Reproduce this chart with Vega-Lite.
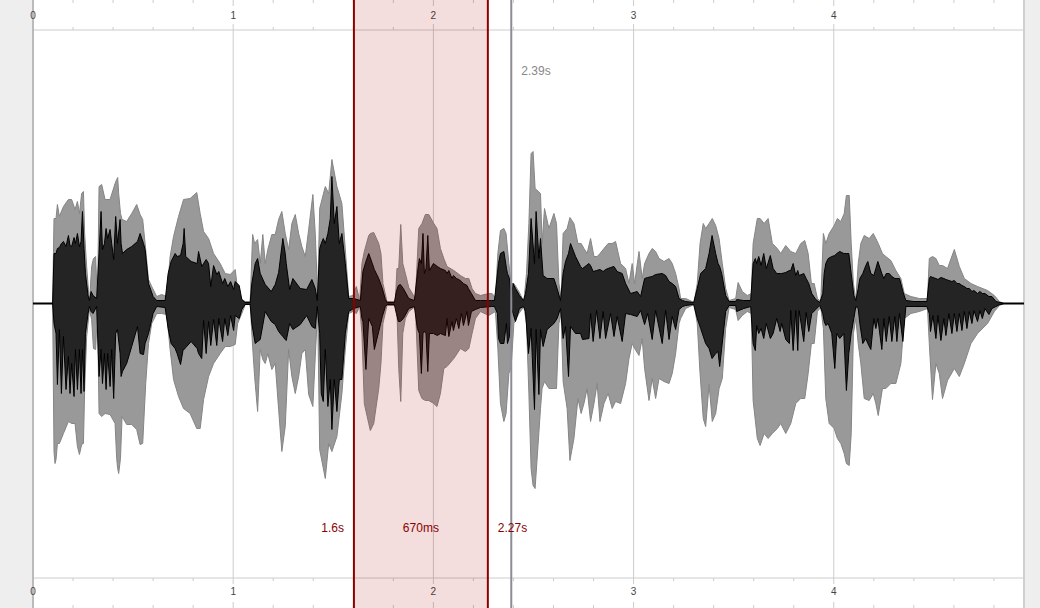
{"$schema":"https://vega.github.io/schema/vega-lite/v6.json","width":1040,"height":608,"autosize":{"type":"none"},"padding":0,"background":"#ffffff","config":{"axis":{"disable":true},"view":{"stroke":null}},
"data":{"name":"plot","values":[{"start":0,"end":4.95}]},
"datasets":{
"margins":[{"start":-0.1648,"end":0},{"start":4.95,"end":5.03}],
"seconds":[{"t":0,"label":"0"},{"t":1,"label":"1"},{"t":2,"label":"2"},{"t":3,"label":"3"},{"t":4,"label":"4"}],
"minor":[{"t":0.2},{"t":0.4},{"t":0.6},{"t":0.8},{"t":1.2},{"t":1.4},{"t":1.6},{"t":1.8},{"t":2.2},{"t":2.4},{"t":2.6},{"t":2.8},{"t":3.2},{"t":3.4},{"t":3.6},{"t":3.8},{"t":4.2},{"t":4.4},{"t":4.6},{"t":4.8}],
"selection":[{"start":1.603,"end":2.272,"label":"670ms","mid":1.9375}],
"edges":[{"t":1.603,"label":"1.6s"},{"t":2.272,"label":"2.27s"}],
"cursor":[{"t":2.389,"label":"2.39s"}],
"outer":[{"t":0,"hi":0,"lo":0},{"t":0.098,"hi":0,"lo":0},{"t":0.105,"hi":85,"lo":-148},{"t":0.11,"hi":85,"lo":-160},{"t":0.115,"hi":85,"lo":-156},{"t":0.122,"hi":99,"lo":-140},{"t":0.132,"hi":87,"lo":-140},{"t":0.152,"hi":97,"lo":-130},{"t":0.177,"hi":104,"lo":-118},{"t":0.193,"hi":104,"lo":-120},{"t":0.21,"hi":94,"lo":-120},{"t":0.222,"hi":102,"lo":-143},{"t":0.232,"hi":90,"lo":-151},{"t":0.243,"hi":110,"lo":-141},{"t":0.252,"hi":112,"lo":-140},{"t":0.258,"hi":70,"lo":-86},{"t":0.268,"hi":37,"lo":-33},{"t":0.282,"hi":0,"lo":-6},{"t":0.293,"hi":37,"lo":-16},{"t":0.302,"hi":45,"lo":-45},{"t":0.313,"hi":47,"lo":-46},{"t":0.322,"hi":0,"lo":-6},{"t":0.33,"hi":117,"lo":-110},{"t":0.343,"hi":119,"lo":-113},{"t":0.36,"hi":104,"lo":-110},{"t":0.385,"hi":104,"lo":-111},{"t":0.41,"hi":120,"lo":-120},{"t":0.418,"hi":124,"lo":-155},{"t":0.423,"hi":126,"lo":-165},{"t":0.428,"hi":110,"lo":-170},{"t":0.437,"hi":90,"lo":-155},{"t":0.445,"hi":84,"lo":-113},{"t":0.468,"hi":82,"lo":-121},{"t":0.493,"hi":90,"lo":-121},{"t":0.518,"hi":99,"lo":-126},{"t":0.535,"hi":89,"lo":-141},{"t":0.548,"hi":84,"lo":-140},{"t":0.563,"hi":54,"lo":-80},{"t":0.577,"hi":24,"lo":-40},{"t":0.593,"hi":17,"lo":-20},{"t":0.618,"hi":7,"lo":-10},{"t":0.643,"hi":9,"lo":-10},{"t":0.668,"hi":7,"lo":-11},{"t":0.685,"hi":47,"lo":-46},{"t":0.702,"hi":67,"lo":-76},{"t":0.727,"hi":87,"lo":-93},{"t":0.752,"hi":104,"lo":-105},{"t":0.785,"hi":105,"lo":-110},{"t":0.818,"hi":111,"lo":-125},{"t":0.835,"hi":90,"lo":-125},{"t":0.852,"hi":72,"lo":-96},{"t":0.877,"hi":65,"lo":-73},{"t":0.902,"hi":50,"lo":-60},{"t":0.935,"hi":40,"lo":-50},{"t":0.96,"hi":30,"lo":-43},{"t":0.985,"hi":29,"lo":-43},{"t":1.01,"hi":34,"lo":-41},{"t":1.022,"hi":14,"lo":-20},{"t":1.043,"hi":4,"lo":-10},{"t":1.06,"hi":2,"lo":-1},{"t":1.085,"hi":2,"lo":-1},{"t":1.097,"hi":69,"lo":-43},{"t":1.107,"hi":60,"lo":-73},{"t":1.122,"hi":64,"lo":-108},{"t":1.135,"hi":40,"lo":-46},{"t":1.148,"hi":69,"lo":-56},{"t":1.16,"hi":40,"lo":-60},{"t":1.173,"hi":54,"lo":-50},{"t":1.193,"hi":69,"lo":-66},{"t":1.21,"hi":69,"lo":-60},{"t":1.227,"hi":84,"lo":-106},{"t":1.243,"hi":92,"lo":-148},{"t":1.26,"hi":70,"lo":-123},{"t":1.277,"hi":54,"lo":-46},{"t":1.293,"hi":80,"lo":-73},{"t":1.31,"hi":89,"lo":-90},{"t":1.327,"hi":70,"lo":-73},{"t":1.343,"hi":57,"lo":-50},{"t":1.36,"hi":47,"lo":-46},{"t":1.377,"hi":74,"lo":-91},{"t":1.398,"hi":109,"lo":-103},{"t":1.41,"hi":70,"lo":-53},{"t":1.422,"hi":7,"lo":-6},{"t":1.432,"hi":95,"lo":-146},{"t":1.46,"hi":117,"lo":-175},{"t":1.477,"hi":110,"lo":-140},{"t":1.493,"hi":144,"lo":-148},{"t":1.518,"hi":117,"lo":-133},{"t":1.543,"hi":100,"lo":-90},{"t":1.56,"hi":54,"lo":-46},{"t":1.577,"hi":7,"lo":-10},{"t":1.598,"hi":8,"lo":-8},{"t":1.615,"hi":17,"lo":-10},{"t":1.632,"hi":3,"lo":-3},{"t":1.643,"hi":40,"lo":-30},{"t":1.655,"hi":52,"lo":-100},{"t":1.677,"hi":68,"lo":-120},{"t":1.685,"hi":70,"lo":-127},{"t":1.702,"hi":71,"lo":-120},{"t":1.727,"hi":60,"lo":-85},{"t":1.738,"hi":50,"lo":-60},{"t":1.748,"hi":20,"lo":-20},{"t":1.768,"hi":2,"lo":-2},{"t":1.81,"hi":2,"lo":-2},{"t":1.818,"hi":35,"lo":-8},{"t":1.827,"hi":35,"lo":-65},{"t":1.837,"hi":79,"lo":-98},{"t":1.847,"hi":40,"lo":-30},{"t":1.86,"hi":30,"lo":-15},{"t":1.877,"hi":16,"lo":-8},{"t":1.91,"hi":5,"lo":-3},{"t":1.927,"hi":75,"lo":-87},{"t":1.943,"hi":80,"lo":-95},{"t":1.96,"hi":89,"lo":-97},{"t":1.977,"hi":89,"lo":-97},{"t":2.002,"hi":80,"lo":-100},{"t":2.018,"hi":75,"lo":-103},{"t":2.035,"hi":55,"lo":-90},{"t":2.052,"hi":45,"lo":-65},{"t":2.068,"hi":37,"lo":-63},{"t":2.102,"hi":33,"lo":-55},{"t":2.135,"hi":28,"lo":-45},{"t":2.16,"hi":25,"lo":-48},{"t":2.177,"hi":25,"lo":-45},{"t":2.193,"hi":15,"lo":-30},{"t":2.21,"hi":10,"lo":-15},{"t":2.235,"hi":8,"lo":-8},{"t":2.277,"hi":10,"lo":-12},{"t":2.293,"hi":10,"lo":-10},{"t":2.31,"hi":6,"lo":-8},{"t":2.322,"hi":50,"lo":-45},{"t":2.335,"hi":73,"lo":-100},{"t":2.352,"hi":75,"lo":-118},{"t":2.363,"hi":70,"lo":-110},{"t":2.377,"hi":40,"lo":-70},{"t":2.388,"hi":20,"lo":-65},{"t":2.402,"hi":20,"lo":-20},{"t":2.427,"hi":12,"lo":-10},{"t":2.452,"hi":2,"lo":-3},{"t":2.465,"hi":30,"lo":-20},{"t":2.477,"hi":80,"lo":-90},{"t":2.488,"hi":150,"lo":-165},{"t":2.498,"hi":152,"lo":-182},{"t":2.508,"hi":115,"lo":-185},{"t":2.535,"hi":110,"lo":-105},{"t":2.543,"hi":60,"lo":-85},{"t":2.555,"hi":95,"lo":-78},{"t":2.577,"hi":75,"lo":-85},{"t":2.602,"hi":90,"lo":-85},{"t":2.615,"hi":80,"lo":-85},{"t":2.627,"hi":20,"lo":-20},{"t":2.638,"hi":5,"lo":-10},{"t":2.648,"hi":70,"lo":-78},{"t":2.668,"hi":75,"lo":-105},{"t":2.682,"hi":86,"lo":-157},{"t":2.702,"hi":80,"lo":-135},{"t":2.722,"hi":60,"lo":-95},{"t":2.738,"hi":60,"lo":-110},{"t":2.752,"hi":55,"lo":-100},{"t":2.768,"hi":50,"lo":-85},{"t":2.785,"hi":65,"lo":-118},{"t":2.802,"hi":47,"lo":-100},{"t":2.818,"hi":47,"lo":-80},{"t":2.832,"hi":50,"lo":-118},{"t":2.852,"hi":55,"lo":-100},{"t":2.873,"hi":60,"lo":-90},{"t":2.893,"hi":60,"lo":-105},{"t":2.91,"hi":62,"lo":-98},{"t":2.935,"hi":40,"lo":-100},{"t":2.96,"hi":35,"lo":-80},{"t":2.977,"hi":20,"lo":-55},{"t":2.993,"hi":40,"lo":-40},{"t":3.005,"hi":20,"lo":-45},{"t":3.027,"hi":52,"lo":-52},{"t":3.043,"hi":25,"lo":-35},{"t":3.055,"hi":40,"lo":-65},{"t":3.077,"hi":50,"lo":-97},{"t":3.093,"hi":55,"lo":-75},{"t":3.11,"hi":52,"lo":-95},{"t":3.127,"hi":45,"lo":-75},{"t":3.152,"hi":42,"lo":-78},{"t":3.177,"hi":45,"lo":-80},{"t":3.193,"hi":40,"lo":-70},{"t":3.21,"hi":30,"lo":-50},{"t":3.227,"hi":15,"lo":-20},{"t":3.235,"hi":5,"lo":-15},{"t":3.26,"hi":5,"lo":-5},{"t":3.302,"hi":1,"lo":-1},{"t":3.318,"hi":20,"lo":-20},{"t":3.332,"hi":60,"lo":-70},{"t":3.348,"hi":80,"lo":-115},{"t":3.36,"hi":75,"lo":-123},{"t":3.377,"hi":80,"lo":-81},{"t":3.393,"hi":85,"lo":-118},{"t":3.41,"hi":78,"lo":-110},{"t":3.427,"hi":65,"lo":-85},{"t":3.443,"hi":40,"lo":-75},{"t":3.46,"hi":15,"lo":-25},{"t":3.477,"hi":3,"lo":-4},{"t":3.51,"hi":5,"lo":-6},{"t":3.522,"hi":21,"lo":-17},{"t":3.543,"hi":12,"lo":-12},{"t":3.568,"hi":8,"lo":-8},{"t":3.588,"hi":10,"lo":-10},{"t":3.597,"hi":60,"lo":-97},{"t":3.618,"hi":85,"lo":-135},{"t":3.632,"hi":85,"lo":-142},{"t":3.652,"hi":80,"lo":-130},{"t":3.672,"hi":85,"lo":-135},{"t":3.693,"hi":60,"lo":-130},{"t":3.718,"hi":55,"lo":-125},{"t":3.735,"hi":50,"lo":-120},{"t":3.76,"hi":58,"lo":-130},{"t":3.785,"hi":52,"lo":-120},{"t":3.81,"hi":50,"lo":-100},{"t":3.835,"hi":60,"lo":-95},{"t":3.855,"hi":63,"lo":-95},{"t":3.872,"hi":50,"lo":-70},{"t":3.888,"hi":20,"lo":-40},{"t":3.902,"hi":20,"lo":-40},{"t":3.918,"hi":5,"lo":-8},{"t":3.935,"hi":2,"lo":-4},{"t":3.948,"hi":70,"lo":-25},{"t":3.96,"hi":60,"lo":-95},{"t":3.977,"hi":70,"lo":-120},{"t":4.002,"hi":78,"lo":-125},{"t":4.018,"hi":85,"lo":-135},{"t":4.035,"hi":82,"lo":-140},{"t":4.052,"hi":90,"lo":-150},{"t":4.063,"hi":108,"lo":-160},{"t":4.077,"hi":108,"lo":-162},{"t":4.087,"hi":60,"lo":-130},{"t":4.098,"hi":20,"lo":-30},{"t":4.11,"hi":3,"lo":-15},{"t":4.122,"hi":40,"lo":-40},{"t":4.135,"hi":60,"lo":-60},{"t":4.152,"hi":68,"lo":-95},{"t":4.177,"hi":65,"lo":-97},{"t":4.197,"hi":70,"lo":-90},{"t":4.21,"hi":65,"lo":-100},{"t":4.222,"hi":60,"lo":-112},{"t":4.243,"hi":50,"lo":-85},{"t":4.26,"hi":47,"lo":-85},{"t":4.285,"hi":43,"lo":-80},{"t":4.31,"hi":33,"lo":-80},{"t":4.335,"hi":25,"lo":-60},{"t":4.352,"hi":10,"lo":-15},{"t":4.385,"hi":7,"lo":-10},{"t":4.427,"hi":5,"lo":-8},{"t":4.468,"hi":5,"lo":-5},{"t":4.477,"hi":45,"lo":-40},{"t":4.493,"hi":47,"lo":-96},{"t":4.51,"hi":45,"lo":-60},{"t":4.527,"hi":38,"lo":-70},{"t":4.543,"hi":38,"lo":-95},{"t":4.568,"hi":35,"lo":-77},{"t":4.602,"hi":54,"lo":-65},{"t":4.627,"hi":37,"lo":-73},{"t":4.652,"hi":25,"lo":-60},{"t":4.685,"hi":20,"lo":-40},{"t":4.718,"hi":17,"lo":-30},{"t":4.768,"hi":13,"lo":-20},{"t":4.802,"hi":8,"lo":-8},{"t":4.827,"hi":2,"lo":-2},{"t":4.85,"hi":0,"lo":0},{"t":4.95,"hi":0,"lo":0}],
"inner":[{"t":0,"hi":0,"lo":0},{"t":0.098,"hi":0,"lo":0},{"t":0.105,"hi":50,"lo":-20},{"t":0.115,"hi":50,"lo":-30},{"t":0.122,"hi":55,"lo":-81},{"t":0.132,"hi":56,"lo":-26},{"t":0.142,"hi":60,"lo":-90},{"t":0.152,"hi":62,"lo":-33},{"t":0.165,"hi":57,"lo":-86},{"t":0.177,"hi":68,"lo":-53},{"t":0.185,"hi":58,"lo":-90},{"t":0.193,"hi":57,"lo":-60},{"t":0.205,"hi":66,"lo":-93},{"t":0.212,"hi":60,"lo":-46},{"t":0.222,"hi":70,"lo":-86},{"t":0.232,"hi":57,"lo":-46},{"t":0.24,"hi":62,"lo":-90},{"t":0.247,"hi":92,"lo":-46},{"t":0.255,"hi":55,"lo":-88},{"t":0.262,"hi":30,"lo":-30},{"t":0.275,"hi":8,"lo":-10},{"t":0.282,"hi":3,"lo":-3},{"t":0.29,"hi":12,"lo":-8},{"t":0.3,"hi":8,"lo":-10},{"t":0.318,"hi":5,"lo":-3},{"t":0.33,"hi":50,"lo":-73},{"t":0.34,"hi":92,"lo":-46},{"t":0.347,"hi":54,"lo":-80},{"t":0.357,"hi":60,"lo":-50},{"t":0.365,"hi":75,"lo":-86},{"t":0.373,"hi":65,"lo":-50},{"t":0.385,"hi":74,"lo":-83},{"t":0.393,"hi":60,"lo":-46},{"t":0.403,"hi":44,"lo":-95},{"t":0.413,"hi":87,"lo":-30},{"t":0.422,"hi":60,"lo":-26},{"t":0.435,"hi":84,"lo":-50},{"t":0.44,"hi":60,"lo":-73},{"t":0.447,"hi":50,"lo":-68},{"t":0.468,"hi":54,"lo":-60},{"t":0.493,"hi":57,"lo":-43},{"t":0.522,"hi":62,"lo":-23},{"t":0.535,"hi":70,"lo":-50},{"t":0.552,"hi":60,"lo":-51},{"t":0.56,"hi":54,"lo":-40},{"t":0.577,"hi":20,"lo":-30},{"t":0.6,"hi":7,"lo":-10},{"t":0.618,"hi":3,"lo":-3},{"t":0.66,"hi":3,"lo":-4},{"t":0.675,"hi":30,"lo":-25},{"t":0.69,"hi":42,"lo":-40},{"t":0.71,"hi":50,"lo":-45},{"t":0.72,"hi":47,"lo":-50},{"t":0.737,"hi":48,"lo":-61},{"t":0.75,"hi":60,"lo":-46},{"t":0.755,"hi":75,"lo":-46},{"t":0.763,"hi":47,"lo":-44},{"t":0.79,"hi":42,"lo":-38},{"t":0.82,"hi":40,"lo":-45},{"t":0.827,"hi":52,"lo":-50},{"t":0.843,"hi":37,"lo":-55},{"t":0.852,"hi":40,"lo":-17},{"t":0.865,"hi":44,"lo":-50},{"t":0.877,"hi":40,"lo":-18},{"t":0.888,"hi":17,"lo":-42},{"t":0.902,"hi":38,"lo":-16},{"t":0.918,"hi":29,"lo":-42},{"t":0.928,"hi":32,"lo":-15},{"t":0.947,"hi":20,"lo":-38},{"t":0.958,"hi":25,"lo":-15},{"t":0.973,"hi":17,"lo":-32},{"t":0.987,"hi":22,"lo":-12},{"t":1.002,"hi":14,"lo":-27},{"t":1.01,"hi":22,"lo":-12},{"t":1.03,"hi":18,"lo":-15},{"t":1.043,"hi":4,"lo":-6},{"t":1.06,"hi":1,"lo":-1},{"t":1.085,"hi":1,"lo":-1},{"t":1.093,"hi":20,"lo":-20},{"t":1.11,"hi":40,"lo":-40},{"t":1.122,"hi":45,"lo":-38},{"t":1.135,"hi":30,"lo":-36},{"t":1.16,"hi":19,"lo":-8},{"t":1.19,"hi":12,"lo":-18},{"t":1.21,"hi":19,"lo":-21},{"t":1.227,"hi":31,"lo":-28},{"t":1.248,"hi":65,"lo":-33},{"t":1.26,"hi":50,"lo":-36},{"t":1.265,"hi":40,"lo":-37},{"t":1.282,"hi":14,"lo":-20},{"t":1.298,"hi":25,"lo":-26},{"t":1.335,"hi":15,"lo":-21},{"t":1.367,"hi":14,"lo":-12},{"t":1.393,"hi":24,"lo":-23},{"t":1.41,"hi":15,"lo":-25},{"t":1.42,"hi":3,"lo":-3},{"t":1.432,"hi":55,"lo":-30},{"t":1.44,"hi":60,"lo":-90},{"t":1.45,"hi":65,"lo":-98},{"t":1.46,"hi":60,"lo":-46},{"t":1.473,"hi":70,"lo":-103},{"t":1.485,"hi":85,"lo":-76},{"t":1.493,"hi":127,"lo":-126},{"t":1.505,"hi":80,"lo":-76},{"t":1.518,"hi":97,"lo":-108},{"t":1.53,"hi":60,"lo":-76},{"t":1.543,"hi":70,"lo":-76},{"t":1.56,"hi":40,"lo":-30},{"t":1.577,"hi":5,"lo":-8},{"t":1.602,"hi":5,"lo":-5},{"t":1.635,"hi":3,"lo":-3},{"t":1.643,"hi":20,"lo":-15},{"t":1.648,"hi":32,"lo":-18},{"t":1.663,"hi":42,"lo":-66},{"t":1.677,"hi":50,"lo":-15},{"t":1.695,"hi":40,"lo":-23},{"t":1.705,"hi":34,"lo":-46},{"t":1.727,"hi":25,"lo":-28},{"t":1.745,"hi":15,"lo":-13},{"t":1.76,"hi":4,"lo":-3},{"t":1.77,"hi":1,"lo":-1},{"t":1.805,"hi":1,"lo":-1},{"t":1.815,"hi":12,"lo":-10},{"t":1.825,"hi":18,"lo":-18},{"t":1.835,"hi":19,"lo":-18},{"t":1.85,"hi":15,"lo":-15},{"t":1.877,"hi":5,"lo":-5},{"t":1.905,"hi":3,"lo":-3},{"t":1.92,"hi":30,"lo":-25},{"t":1.93,"hi":45,"lo":-30},{"t":1.94,"hi":40,"lo":-70},{"t":1.948,"hi":70,"lo":-30},{"t":1.955,"hi":30,"lo":-28},{"t":1.963,"hi":35,"lo":-30},{"t":1.972,"hi":68,"lo":-68},{"t":1.98,"hi":33,"lo":-30},{"t":2,"hi":40,"lo":-30},{"t":2.02,"hi":37,"lo":-32},{"t":2.035,"hi":35,"lo":-30},{"t":2.06,"hi":33,"lo":-32},{"t":2.068,"hi":30,"lo":-15},{"t":2.077,"hi":33,"lo":-33},{"t":2.093,"hi":25,"lo":-18},{"t":2.1,"hi":28,"lo":-27},{"t":2.115,"hi":25,"lo":-15},{"t":2.127,"hi":24,"lo":-25},{"t":2.14,"hi":22,"lo":-10},{"t":2.15,"hi":20,"lo":-22},{"t":2.168,"hi":18,"lo":-8},{"t":2.175,"hi":15,"lo":-22},{"t":2.19,"hi":10,"lo":-8},{"t":2.21,"hi":3,"lo":-6},{"t":2.235,"hi":3,"lo":-4},{"t":2.29,"hi":3,"lo":-3},{"t":2.305,"hi":3,"lo":-3},{"t":2.32,"hi":30,"lo":-10},{"t":2.325,"hi":40,"lo":-35},{"t":2.335,"hi":50,"lo":-40},{"t":2.352,"hi":52,"lo":-40},{"t":2.365,"hi":35,"lo":-20},{"t":2.37,"hi":30,"lo":-40},{"t":2.38,"hi":25,"lo":-33},{"t":2.39,"hi":5,"lo":-5},{"t":2.398,"hi":20,"lo":-10},{"t":2.41,"hi":15,"lo":-18},{"t":2.43,"hi":8,"lo":-5},{"t":2.45,"hi":3,"lo":-3},{"t":2.46,"hi":10,"lo":-8},{"t":2.475,"hi":30,"lo":-50},{"t":2.488,"hi":85,"lo":-25},{"t":2.505,"hi":40,"lo":-106},{"t":2.513,"hi":92,"lo":-26},{"t":2.527,"hi":45,"lo":-91},{"t":2.535,"hi":65,"lo":-26},{"t":2.548,"hi":28,"lo":-43},{"t":2.568,"hi":25,"lo":-26},{"t":2.602,"hi":25,"lo":-20},{"t":2.618,"hi":15,"lo":-15},{"t":2.635,"hi":3,"lo":-5},{"t":2.648,"hi":30,"lo":-35},{"t":2.66,"hi":42,"lo":-23},{"t":2.675,"hi":50,"lo":-73},{"t":2.685,"hi":60,"lo":-23},{"t":2.71,"hi":47,"lo":-30},{"t":2.735,"hi":37,"lo":-30},{"t":2.745,"hi":35,"lo":-36},{"t":2.777,"hi":40,"lo":-35},{"t":2.785,"hi":38,"lo":-10},{"t":2.798,"hi":32,"lo":-38},{"t":2.815,"hi":33,"lo":-7},{"t":2.832,"hi":34,"lo":-35},{"t":2.848,"hi":32,"lo":-8},{"t":2.86,"hi":34,"lo":-35},{"t":2.885,"hi":36,"lo":-10},{"t":2.902,"hi":37,"lo":-33},{"t":2.918,"hi":32,"lo":-13},{"t":2.943,"hi":30,"lo":-38},{"t":2.96,"hi":20,"lo":-10},{"t":2.985,"hi":10,"lo":-11},{"t":3.018,"hi":12,"lo":-13},{"t":3.035,"hi":7,"lo":-7},{"t":3.055,"hi":25,"lo":-21},{"t":3.07,"hi":26,"lo":-10},{"t":3.093,"hi":27,"lo":-36},{"t":3.11,"hi":29,"lo":-7},{"t":3.143,"hi":30,"lo":-40},{"t":3.16,"hi":28,"lo":-7},{"t":3.177,"hi":22,"lo":-36},{"t":3.193,"hi":20,"lo":-13},{"t":3.21,"hi":17,"lo":-26},{"t":3.227,"hi":5,"lo":-6},{"t":3.245,"hi":3,"lo":-3},{"t":3.26,"hi":2,"lo":-2},{"t":3.3,"hi":1,"lo":-1},{"t":3.318,"hi":15,"lo":-15},{"t":3.335,"hi":30,"lo":-25},{"t":3.36,"hi":35,"lo":-40},{"t":3.377,"hi":50,"lo":-45},{"t":3.392,"hi":68,"lo":-55},{"t":3.41,"hi":50,"lo":-50},{"t":3.422,"hi":40,"lo":-48},{"t":3.43,"hi":37,"lo":-63},{"t":3.44,"hi":30,"lo":-45},{"t":3.46,"hi":8,"lo":-8},{"t":3.477,"hi":2,"lo":-2},{"t":3.51,"hi":2,"lo":-2},{"t":3.515,"hi":4,"lo":-8},{"t":3.55,"hi":3,"lo":-5},{"t":3.585,"hi":3,"lo":-3},{"t":3.597,"hi":40,"lo":-40},{"t":3.608,"hi":45,"lo":-47},{"t":3.615,"hi":40,"lo":-22},{"t":3.625,"hi":47,"lo":-30},{"t":3.637,"hi":38,"lo":-25},{"t":3.65,"hi":50,"lo":-35},{"t":3.663,"hi":35,"lo":-20},{"t":3.683,"hi":48,"lo":-35},{"t":3.697,"hi":35,"lo":-30},{"t":3.715,"hi":30,"lo":-15},{"t":3.732,"hi":30,"lo":-28},{"t":3.74,"hi":30,"lo":-20},{"t":3.76,"hi":31,"lo":-36},{"t":3.778,"hi":33,"lo":-40},{"t":3.785,"hi":33,"lo":-7},{"t":3.797,"hi":40,"lo":-47},{"t":3.81,"hi":28,"lo":-7},{"t":3.82,"hi":33,"lo":-47},{"t":3.827,"hi":28,"lo":-7},{"t":3.85,"hi":30,"lo":-38},{"t":3.862,"hi":25,"lo":-9},{"t":3.875,"hi":20,"lo":-28},{"t":3.89,"hi":10,"lo":-10},{"t":3.91,"hi":4,"lo":-6},{"t":3.93,"hi":1,"lo":-2},{"t":3.945,"hi":10,"lo":-10},{"t":3.952,"hi":30,"lo":-18},{"t":3.96,"hi":40,"lo":-22},{"t":3.972,"hi":45,"lo":-20},{"t":3.99,"hi":47,"lo":-30},{"t":4.005,"hi":48,"lo":-65},{"t":4.015,"hi":50,"lo":-30},{"t":4.03,"hi":52,"lo":-35},{"t":4.05,"hi":50,"lo":-30},{"t":4.063,"hi":50,"lo":-87},{"t":4.075,"hi":50,"lo":-50},{"t":4.087,"hi":30,"lo":-30},{"t":4.1,"hi":8,"lo":-15},{"t":4.11,"hi":3,"lo":-3},{"t":4.122,"hi":15,"lo":-5},{"t":4.13,"hi":25,"lo":-20},{"t":4.145,"hi":30,"lo":-40},{"t":4.16,"hi":38,"lo":-35},{"t":4.17,"hi":42,"lo":-40},{"t":4.185,"hi":30,"lo":-46},{"t":4.2,"hi":28,"lo":-15},{"t":4.21,"hi":35,"lo":-25},{"t":4.22,"hi":42,"lo":-15},{"t":4.24,"hi":30,"lo":-46},{"t":4.25,"hi":25,"lo":-15},{"t":4.262,"hi":30,"lo":-38},{"t":4.277,"hi":30,"lo":-13},{"t":4.29,"hi":27,"lo":-38},{"t":4.305,"hi":25,"lo":-13},{"t":4.315,"hi":25,"lo":-38},{"t":4.328,"hi":25,"lo":-10},{"t":4.345,"hi":12,"lo":-38},{"t":4.36,"hi":3,"lo":-3},{"t":4.4,"hi":2,"lo":-3},{"t":4.465,"hi":2,"lo":-3},{"t":4.477,"hi":25,"lo":-10},{"t":4.483,"hi":27,"lo":-28},{"t":4.495,"hi":26,"lo":-12},{"t":4.51,"hi":25,"lo":-35},{"t":4.52,"hi":24,"lo":-12},{"t":4.535,"hi":26,"lo":-37},{"t":4.55,"hi":25,"lo":-15},{"t":4.56,"hi":24,"lo":-32},{"t":4.575,"hi":23,"lo":-10},{"t":4.59,"hi":22,"lo":-30},{"t":4.602,"hi":23,"lo":-10},{"t":4.615,"hi":20,"lo":-28},{"t":4.627,"hi":20,"lo":-10},{"t":4.64,"hi":18,"lo":-27},{"t":4.652,"hi":17,"lo":-8},{"t":4.665,"hi":15,"lo":-25},{"t":4.677,"hi":15,"lo":-8},{"t":4.69,"hi":12,"lo":-20},{"t":4.7,"hi":13,"lo":-7},{"t":4.718,"hi":10,"lo":-18},{"t":4.73,"hi":12,"lo":-7},{"t":4.742,"hi":10,"lo":-15},{"t":4.755,"hi":10,"lo":-5},{"t":4.775,"hi":7,"lo":-11},{"t":4.79,"hi":7,"lo":-5},{"t":4.81,"hi":2,"lo":-3},{"t":4.83,"hi":1,"lo":-1},{"t":4.85,"hi":0,"lo":0},{"t":4.95,"hi":0,"lo":0}]
},
"layer":[
{"data":{"name":"margins"},"mark":{"type":"rect","fill":"#eeeeee"},"encoding":{"x":{"field":"start","type":"quantitative","scale":{"domain":[-0.1648,5.03],"nice":false,"zero":false}},"x2":{"field":"end"}}},
{"data":{"name":"seconds"},"mark":{"type":"rule","stroke":"#cccccc","strokeWidth":1},"encoding":{"x":{"field":"t","type":"quantitative"},"y":{"datum":273.5,"type":"quantitative","scale":{"domain":[-304.5,303.5],"nice":false,"zero":false}},"y2":{"datum":-274.5}}},
{"data":{"name":"seconds"},"mark":{"type":"rule","stroke":"#cccccc","strokeWidth":1},"encoding":{"x":{"field":"t","type":"quantitative"},"y":{"datum":303.5,"type":"quantitative"},"y2":{"datum":297.5}}},
{"data":{"name":"seconds"},"mark":{"type":"rule","stroke":"#cccccc","strokeWidth":1},"encoding":{"x":{"field":"t","type":"quantitative"},"y":{"datum":279.5,"type":"quantitative"},"y2":{"datum":273.5}}},
{"data":{"name":"seconds"},"mark":{"type":"rule","stroke":"#cccccc","strokeWidth":1},"encoding":{"x":{"field":"t","type":"quantitative"},"y":{"datum":-280.5,"type":"quantitative"},"y2":{"datum":-274.5}}},
{"data":{"name":"seconds"},"mark":{"type":"rule","stroke":"#cccccc","strokeWidth":1},"encoding":{"x":{"field":"t","type":"quantitative"},"y":{"datum":-304.5,"type":"quantitative"},"y2":{"datum":-298.5}}},
{"data":{"name":"minor"},"mark":{"type":"rule","stroke":"#cccccc","strokeWidth":1},"encoding":{"x":{"field":"t","type":"quantitative"},"y":{"datum":303.5,"type":"quantitative"},"y2":{"datum":300.5}}},
{"data":{"name":"minor"},"mark":{"type":"rule","stroke":"#cccccc","strokeWidth":1},"encoding":{"x":{"field":"t","type":"quantitative"},"y":{"datum":276.5,"type":"quantitative"},"y2":{"datum":273.5}}},
{"data":{"name":"minor"},"mark":{"type":"rule","stroke":"#cccccc","strokeWidth":1},"encoding":{"x":{"field":"t","type":"quantitative"},"y":{"datum":-277.5,"type":"quantitative"},"y2":{"datum":-274.5}}},
{"data":{"name":"minor"},"mark":{"type":"rule","stroke":"#cccccc","strokeWidth":1},"encoding":{"x":{"field":"t","type":"quantitative"},"y":{"datum":-304.5,"type":"quantitative"},"y2":{"datum":-301.5}}},
{"mark":{"type":"rule","stroke":"#cccccc","strokeWidth":1},"encoding":{"x":{"field":"start","type":"quantitative"},"x2":{"field":"end"},"y":{"datum":273.5,"type":"quantitative"}}},
{"mark":{"type":"rule","stroke":"#cccccc","strokeWidth":1},"encoding":{"x":{"field":"start","type":"quantitative"},"x2":{"field":"end"},"y":{"datum":-274.5,"type":"quantitative"}}},
{"mark":{"type":"rule","stroke":"#bbbbbb","strokeWidth":2},"encoding":{"x":{"field":"start","type":"quantitative"}}},
{"mark":{"type":"rule","stroke":"#d0d0d0","strokeWidth":2},"encoding":{"x":{"field":"end","type":"quantitative"}}},
{"data":{"name":"seconds"},"mark":{"type":"text","font":"Liberation Sans","fontSize":10,"fill":"#444444","align":"center","baseline":"middle"},"encoding":{"x":{"field":"t","type":"quantitative"},"y":{"datum":287.5,"type":"quantitative"},"text":{"field":"label"}}},
{"data":{"name":"seconds"},"mark":{"type":"text","font":"Liberation Sans","fontSize":10,"fill":"#444444","align":"center","baseline":"middle"},"encoding":{"x":{"field":"t","type":"quantitative"},"y":{"datum":-288.5,"type":"quantitative"},"text":{"field":"label"}}},
{"data":{"name":"outer"},"mark":{"type":"area","fill":"#999999","stroke":"#858585","strokeWidth":1},"encoding":{"x":{"field":"t","type":"quantitative"},"y":{"field":"hi","type":"quantitative"},"y2":{"field":"lo"}}},
{"mark":{"type":"rule","stroke":"#000000","strokeWidth":2},"encoding":{"x":{"field":"start","type":"quantitative"},"x2":{"field":"end"},"y":{"datum":0,"type":"quantitative"}}},
{"data":{"name":"inner"},"mark":{"type":"area","fill":"#242424","stroke":"#000000","strokeWidth":1},"encoding":{"x":{"field":"t","type":"quantitative"},"y":{"field":"hi","type":"quantitative"},"y2":{"field":"lo"}}},
{"data":{"name":"selection"},"mark":{"type":"rect","fill":"#a50000","opacity":0.135},"encoding":{"x":{"field":"start","type":"quantitative"},"x2":{"field":"end"}}},
{"data":{"name":"edges"},"mark":{"type":"rule","stroke":"#8b0000","strokeWidth":2},"encoding":{"x":{"field":"t","type":"quantitative"}}},
{"data":{"name":"cursor"},"mark":{"type":"rule","stroke":"#8c8c96","strokeWidth":2},"encoding":{"x":{"field":"t","type":"quantitative"}}},
{"data":{"name":"cursor"},"mark":{"type":"text","font":"Liberation Sans","fontSize":12,"fill":"#888888","align":"left","baseline":"middle","dx":10},"encoding":{"x":{"field":"t","type":"quantitative"},"y":{"datum":232.5,"type":"quantitative"},"text":{"field":"label"}}},
{"data":{"name":"edges"},"transform":[{"filter":"datum.label == '1.6s'"}],"mark":{"type":"text","font":"Liberation Sans","fontSize":12,"fill":"#8b0000","align":"right","baseline":"middle","dx":-10},"encoding":{"x":{"field":"t","type":"quantitative"},"y":{"datum":-224.5,"type":"quantitative"},"text":{"field":"label"}}},
{"data":{"name":"edges"},"transform":[{"filter":"datum.label == '2.27s'"}],"mark":{"type":"text","font":"Liberation Sans","fontSize":12,"fill":"#8b0000","align":"left","baseline":"middle","dx":10},"encoding":{"x":{"field":"t","type":"quantitative"},"y":{"datum":-224.5,"type":"quantitative"},"text":{"field":"label"}}},
{"data":{"name":"selection"},"mark":{"type":"text","font":"Liberation Sans","fontSize":12,"fill":"#8b0000","align":"center","baseline":"middle"},"encoding":{"x":{"field":"mid","type":"quantitative"},"y":{"datum":-224.5,"type":"quantitative"},"text":{"field":"label"}}}
]}
